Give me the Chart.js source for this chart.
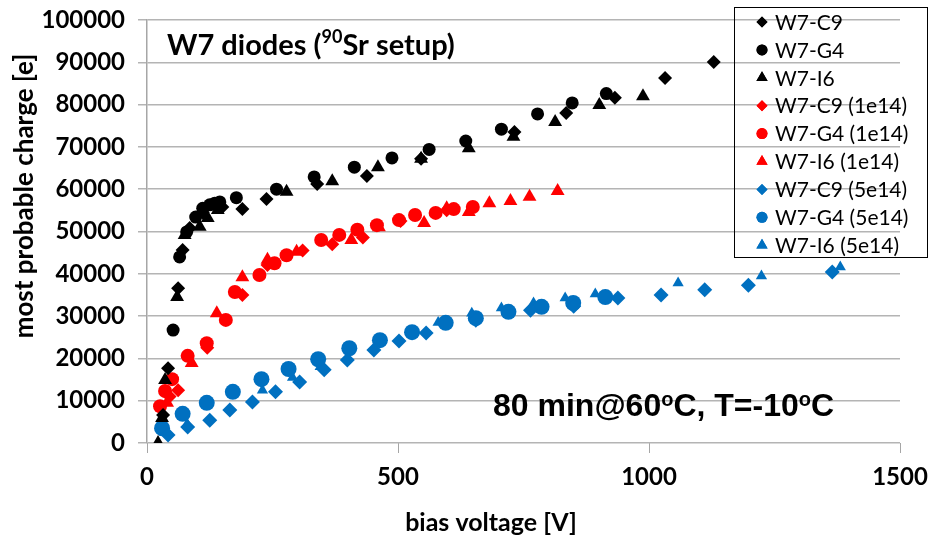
<!DOCTYPE html>
<html>
<head>
<meta charset="utf-8">
<script src="https://cdn.jsdelivr.net/npm/chart.js@4/dist/chart.umd.min.js"></script>
<style>
  html, body { margin: 0; padding: 0; background: #fff; }
  #wrap { width: 933px; height: 539px; }
</style>
</head>
<body>
<div id="wrap"><canvas id="myChart" width="933" height="539"></canvas></div>
<script>
// bias voltage [V] / most probable charge [e]
var c9V    = [32, 42, 62, 71, 85, 111, 150, 190, 238, 339, 438, 546, 732, 835, 932, 1032, 1129];
var c9Q    = [6600, 17700, 36600, 45600, 50800, 54500, 55800, 55300, 57700, 61200, 63100, 67200, 73500, 78000, 81600, 86300, 90100];
var g4V    = [52, 65, 79, 97, 111, 125, 135, 145, 178, 258, 333, 413, 488, 562, 635, 706, 778, 847, 915];
var g4Q    = [26700, 44000, 49900, 53400, 55500, 56300, 56700, 57000, 58000, 60000, 62900, 65200, 67400, 69400, 71400, 74200, 77800, 80400, 82600];
var i6V    = [22, 30, 36, 60, 75, 105, 121, 141, 278, 369, 460, 546, 641, 730, 813, 901, 988];
var i6Q    = [0, 5900, 14900, 34500, 49200, 51100, 53200, 55100, 59400, 61900, 65200, 67200, 69700, 72400, 75900, 79900, 82000];

var c9V_1e14 = [45, 62, 120, 190, 240, 310, 369, 430, 505, 597];
var c9Q_1e14 = [11000, 12500, 22500, 35000, 42100, 45500, 47000, 48600, 52500, 55000];
var g4V_1e14 = [26, 36, 50, 81, 119, 157, 175, 224, 254, 278, 347, 383, 419, 458, 502, 534, 575, 611, 649];
var g4Q_1e14 = [8700, 12300, 15100, 20600, 23600, 29100, 35700, 39700, 42500, 44400, 48000, 49200, 50400, 51500, 52700, 53900, 54400, 55300, 55800];
var i6V_1e14 = [40, 89, 139, 190, 240, 298, 407, 462, 552, 597, 641, 682, 724, 762, 818];
var i6Q_1e14 = [9500, 18900, 30700, 39200, 43300, 45200, 48000, 51000, 52000, 55500, 54600, 56700, 57200, 58200, 59600];

var c9V_5e14 = [42, 81, 125, 165, 210, 256, 304, 353, 399, 452, 502, 556, 655, 764, 850, 938, 1024, 1111, 1198, 1365];
var c9Q_5e14 = [1900, 3800, 5400, 7800, 9700, 12100, 14400, 17300, 19600, 22000, 24100, 26000, 29000, 31400, 32300, 34300, 35000, 36200, 37300, 40400];
var g4V_5e14 = [30, 71, 119, 171, 228, 282, 341, 403, 464, 528, 595, 655, 720, 786, 849, 913];
var g4Q_5e14 = [3500, 6900, 9500, 12100, 15100, 17500, 19800, 22400, 24300, 26200, 28400, 29500, 31000, 32200, 33100, 34500];
var i6V_5e14 = [35, 80, 230, 290, 345, 460, 580, 647, 706, 770, 833, 893, 1058, 1224, 1381];
var i6Q_5e14 = [2500, 4500, 12500, 15500, 18000, 23500, 28500, 30700, 31900, 33100, 34300, 35200, 37800, 39500, 41600];

var xTicks = [0, 500, 1000, 1500];
var yMax = 100000, yStep = 10000;

function pts(xs, ys) {
    return xs.map(function (x, i) { return { x: x, y: ys[i] }; });
}

function ds(label, xs, ys, color, style, r) {
    return {
        label: label,
        data: pts(xs, ys),
        backgroundColor: color,
        borderColor: color,
        borderWidth: 0,
        pointStyle: style,
        pointRadius: r,
        pointHoverRadius: r
    };
}

var BLACK = '#000000', RED = '#ff0000', BLUE = '#0070c0';

var datasets = [
    ds('W7-C9', c9V, c9Q, BLACK, 'rectRot', 7),
    ds('W7-G4', g4V, g4Q, BLACK, 'circle', 6.5),
    ds('W7-I6', i6V, i6Q, BLACK, 'triangle', 8),
    ds('W7-C9 (1e14)', c9V_1e14, c9Q_1e14, RED, 'rectRot', 7),
    ds('W7-G4 (1e14)', g4V_1e14, g4Q_1e14, RED, 'circle', 7),
    ds('W7-I6 (1e14)', i6V_1e14, i6Q_1e14, RED, 'triangle', 8),
    ds('W7-C9 (5e14)', c9V_5e14, c9Q_5e14, BLUE, 'rectRot', 7.5),
    ds('W7-G4 (5e14)', g4V_5e14, g4Q_5e14, BLUE, 'circle', 8),
    ds('W7-I6 (5e14)', i6V_5e14, i6Q_5e14, BLUE, 'triangle', 6.5)
];

// texts, own legend box
var extras = {
    id: 'extras',
    afterDraw: function (chart) {
        var ctx = chart.ctx;
        ctx.save();
        ctx.fillStyle = '#000';
        ctx.textBaseline = 'alphabetic';

        // top-left label with superscript
        var x = 167, y = 55;
        ctx.font = 'bold 29px Lato';
        ctx.textAlign = 'left';
        ctx.fillText('W7 diodes (', x, y);
        x += ctx.measureText('W7 diodes (').width;
        ctx.font = 'bold 18px Lato';
        ctx.fillText('90', x, y - 12);
        x += ctx.measureText('90').width;
        ctx.font = 'bold 29px Lato';
        ctx.fillText('Sr setup)', x, y);

        // annealing label
        x = 493; y = 416;
        var parts = [['80 min@60', 0], ['o', 1], ['C, T=-10', 0], ['o', 1], ['C', 0]];
        parts.forEach(function (p) {
            ctx.font = p[1] ? 'bold 20px "Liberation Sans"' : 'bold 32px "Liberation Sans"';
            ctx.fillText(p[0], x, p[1] ? y - 10 : y);
            x += ctx.measureText(p[0]).width;
        });

        // axis titles
        ctx.font = 'bold 25px Lato';
        ctx.textAlign = 'center';
        ctx.fillText('bias voltage [V]', 491, 531);
        ctx.save();
        ctx.translate(33, 196);
        ctx.rotate(-Math.PI / 2);
        ctx.font = 'bold 26px Lato';
        ctx.fillText('most probable charge [e]', 0, 0);
        ctx.restore();

        // legend
        ctx.strokeStyle = '#000';
        ctx.lineWidth = 1;
        ctx.strokeRect(734.5, 7.5, 193, 250);
        ctx.textAlign = 'left';
        ctx.textBaseline = 'middle';
        ctx.font = '21px Lato';
        chart.data.datasets.forEach(function (d, i) {
            var cy = 22 + i * 27.9;
            ctx.fillStyle = d.backgroundColor;
            Chart.helpers.drawPoint(ctx, {
                pointStyle: d.pointStyle,
                radius: d.pointStyle === 'triangle' ? 6.5 : 5.5,
                rotation: 0,
                borderWidth: 0
            }, 762, cy);
            ctx.fill();
            ctx.fillStyle = '#000';
            ctx.fillText(d.label, 775, cy + 1);
        });
        ctx.restore();
    }
};

var ctx = document.getElementById('myChart').getContext('2d');
var myChart = new Chart(ctx, {
    type: 'scatter',
    data: { datasets: datasets },
    options: {
        responsive: false,
        animation: false,
        layout: { padding: { left: 0, right: 33, top: 20, bottom: 0 } },
        plugins: {
            legend: { display: false },
            tooltip: { enabled: false }
        },
        scales: {
            x: {
                type: 'linear',
                min: 0,
                max: 1500,
                afterBuildTicks: function (scale) {
                    scale.ticks = xTicks.map(function (v) { return { value: v }; });
                },
                afterFit: function (scale) {
                    scale.height = 96;
                    scale.paddingLeft = 0;
                    scale.paddingRight = 0;
                },
                grid: { drawOnChartArea: false, drawTicks: true, tickLength: 10, color: '#a6a6a6', lineWidth: 1 },
                border: { display: false },
                ticks: {
                    color: '#000', font: { family: 'Lato', weight: 'bold', size: 24 }, padding: 10, maxRotation: 0,
                    callback: function (v) { return String(v); }
                }
            },
            y: {
                min: 0,
                max: yMax,
                afterFit: function (scale) {
                    scale.width = 147;
                    scale.paddingTop = 0;
                    scale.paddingBottom = 0;
                },
                grid: { color: '#b4b4b4', lineWidth: 1.5, tickLength: 9 },
                border: { color: '#a6a6a6', width: 1.5 },
                ticks: {
                    stepSize: yStep, color: '#000', font: { family: 'Lato', weight: 'bold', size: 24 }, padding: 13,
                    callback: function (v) { return String(v); }
                }
            }
        }
    },
    plugins: [extras]
});
</script>
</body>
</html>
